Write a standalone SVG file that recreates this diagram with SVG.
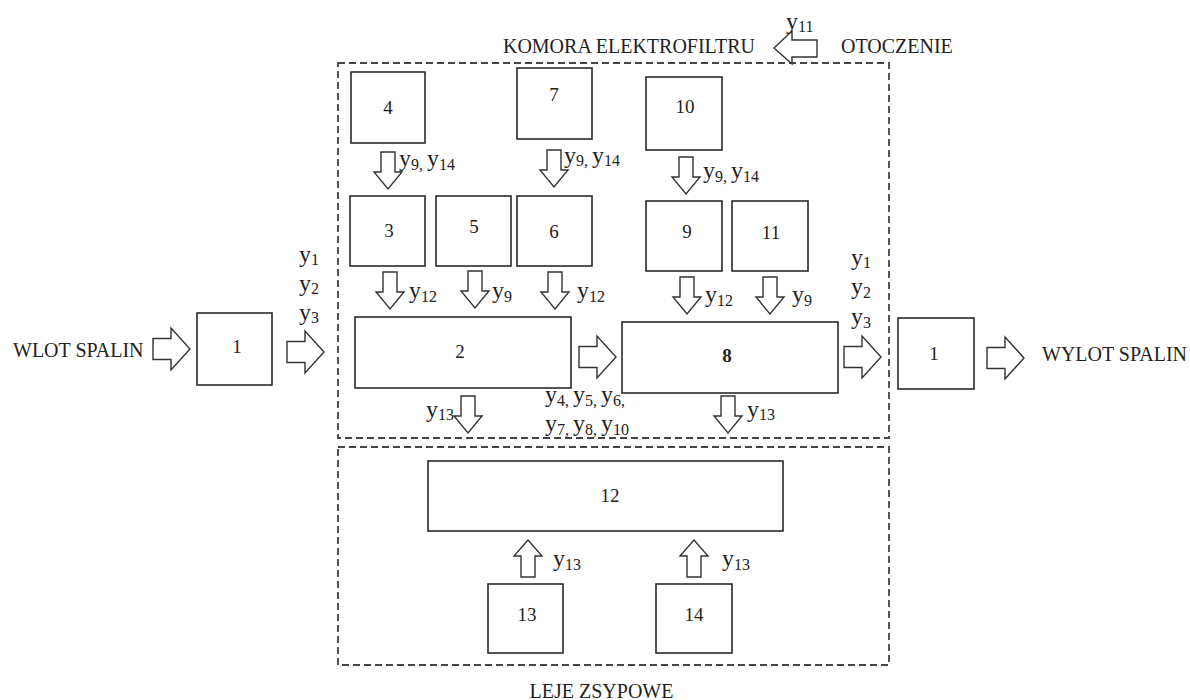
<svg xmlns="http://www.w3.org/2000/svg" xmlns:xlink="http://www.w3.org/1999/xlink" width="1190" height="700" viewBox="0 0 1190 700">
<style>
.box{fill:#fff;stroke:#2a2a2a;stroke-width:1.6}
.dash{fill:none;stroke:#444;stroke-width:1.8;stroke-dasharray:7 4}
.arr{fill:#fff;stroke:#333;stroke-width:1.4;stroke-linejoin:miter}
text{font-family:"Liberation Serif","Times New Roman",serif;fill:#222}
.num{font-size:19px;text-anchor:middle}
.lbl{font-size:20px}
.y{font-size:24px}
.s{font-size:16px}
</style>
<defs>
<path id="ad" class="arr" d="M-7,0 H7 V20 H14 L0,37 L-14,20 H-7 Z"/>
<path id="au" class="arr" d="M-7,0 H7 V-21 H14 L0,-37 L-14,-21 H-7 Z"/>
<path id="ar" class="arr" d="M0,-10.5 H18 V-21 L37,0 L18,21 V10.5 H0 Z"/>
</defs>
<rect width="1190" height="700" fill="#fff"/>

<g id="regions">
<rect class="dash" x="338" y="63" width="551" height="375"/>
<rect class="dash" x="338" y="447" width="551" height="218"/>
<text class="lbl" x="755" y="52.5" text-anchor="end">KOMORA ELEKTROFILTRU</text>
<text class="lbl" x="841" y="52.5">OTOCZENIE</text>
<text class="lbl" x="601.5" y="698" text-anchor="middle">LEJE ZSYPOWE</text>
<text class="lbl" x="13" y="357">WLOT SPALIN</text>
<text class="lbl" x="1042" y="361">WYLOT SPALIN</text>
</g>

<g id="node-1-in"><rect class="box" x="197" y="313" width="75" height="72"/><text class="num" x="237" y="353">1</text></g>
<g id="node-1-out"><rect class="box" x="898" y="318" width="76" height="71"/><text class="num" x="934" y="360">1</text></g>
<g id="node-4"><rect class="box" x="351" y="72" width="74" height="71"/><text class="num" x="388" y="114">4</text></g>
<g id="node-7"><rect class="box" x="517" y="68" width="75" height="71"/><text class="num" x="554" y="101">7</text></g>
<g id="node-10"><rect class="box" x="646" y="77" width="76" height="73"/><text class="num" x="685" y="113">10</text></g>
<g id="node-3"><rect class="box" x="350" y="196" width="75" height="70"/><text class="num" x="389" y="237">3</text></g>
<g id="node-5"><rect class="box" x="436" y="196" width="75" height="70"/><text class="num" x="474" y="233">5</text></g>
<g id="node-6"><rect class="box" x="517" y="196" width="75" height="70"/><text class="num" x="554" y="238">6</text></g>
<g id="node-9"><rect class="box" x="646" y="201" width="76" height="70"/><text class="num" x="687" y="238">9</text></g>
<g id="node-11"><rect class="box" x="732" y="201" width="76" height="70"/><text class="num" x="771" y="239">11</text></g>
<g id="node-2"><rect class="box" x="355" y="317" width="216" height="71"/><text class="num" x="460" y="358">2</text></g>
<g id="node-8"><rect class="box" x="622" y="322" width="216" height="71"/><text class="num" x="727" y="362" font-weight="bold">8</text></g>
<g id="node-12"><rect class="box" x="428" y="461" width="355" height="70"/><text class="num" x="610" y="502">12</text></g>
<g id="node-13"><rect class="box" x="488" y="584" width="75" height="69"/><text class="num" x="527" y="621">13</text></g>
<g id="node-14"><rect class="box" x="656" y="584" width="76" height="69"/><text class="num" x="694" y="621">14</text></g>

<g id="connectors">
<polygon class="arr" points="817,40 792,40 792,31 774,48 792,64 792,57 817,57"/>
<use xlink:href="#ar" x="153" y="349"/>
<use xlink:href="#ar" x="287" y="352"/>
<use xlink:href="#ar" x="579" y="357"/>
<use xlink:href="#ar" x="844" y="357"/>
<use xlink:href="#ar" x="987" y="358"/>
<use xlink:href="#ad" x="388" y="152"/>
<use xlink:href="#ad" x="554" y="150"/>
<use xlink:href="#ad" x="686" y="157"/>
<use xlink:href="#ad" x="390" y="272"/>
<use xlink:href="#ad" x="475" y="271"/>
<use xlink:href="#ad" x="555" y="272"/>
<use xlink:href="#ad" x="687" y="277"/>
<use xlink:href="#ad" x="770" y="277"/>
<use xlink:href="#ad" x="468" y="396"/>
<use xlink:href="#ad" x="728" y="396"/>
<use xlink:href="#au" x="528" y="577"/>
<use xlink:href="#au" x="694" y="577"/>
</g>

<g id="labels">
<text class="y" x="786" y="29">y<tspan class="s" dy="3">11</tspan></text>
<text class="y" x="399" y="166">y<tspan class="s" dy="3.5">9, </tspan><tspan dy="-3.5">y</tspan><tspan class="s" dy="3.5">14</tspan></text>
<text class="y" x="564" y="162.5">y<tspan class="s" dy="3.5">9, </tspan><tspan dy="-3.5">y</tspan><tspan class="s" dy="3.5">14</tspan></text>
<text class="y" x="703" y="178">y<tspan class="s" dy="3.5">9, </tspan><tspan dy="-3.5">y</tspan><tspan class="s" dy="3.5">14</tspan></text>
<text class="y" x="409" y="298">y<tspan class="s" dy="3.5">12</tspan></text>
<text class="y" x="492" y="298">y<tspan class="s" dy="3.5">9</tspan></text>
<text class="y" x="577" y="298">y<tspan class="s" dy="3.5">12</tspan></text>
<text class="y" x="705" y="302">y<tspan class="s" dy="3.5">12</tspan></text>
<text class="y" x="792" y="302">y<tspan class="s" dy="3.5">9</tspan></text>
<text class="y" x="299" y="261.5">y<tspan class="s" dy="3.5">1</tspan></text>
<text class="y" x="299" y="290.5">y<tspan class="s" dy="3.5">2</tspan></text>
<text class="y" x="299" y="319.5">y<tspan class="s" dy="3.5">3</tspan></text>
<text class="y" x="851" y="264.5">y<tspan class="s" dy="3.5">1</tspan></text>
<text class="y" x="851" y="294">y<tspan class="s" dy="3.5">2</tspan></text>
<text class="y" x="851" y="324">y<tspan class="s" dy="3.5">3</tspan></text>
<text class="y" x="426" y="416.5">y<tspan class="s" dy="3.5">13</tspan></text>
<text class="y" x="747" y="416.5">y<tspan class="s" dy="3.5">13</tspan></text>
<text class="y" x="545" y="402">y<tspan class="s" dy="3.5">4, </tspan><tspan dy="-3.5">y</tspan><tspan class="s" dy="3.5">5, </tspan><tspan dy="-3.5">y</tspan><tspan class="s" dy="3.5">6,</tspan></text>
<text class="y" x="545" y="431">y<tspan class="s" dy="3.5">7, </tspan><tspan dy="-3.5">y</tspan><tspan class="s" dy="3.5">8, </tspan><tspan dy="-3.5">y</tspan><tspan class="s" dy="3.5">10</tspan></text>
<text class="y" x="553" y="566">y<tspan class="s" dy="3.5">13</tspan></text>
<text class="y" x="722" y="566">y<tspan class="s" dy="3.5">13</tspan></text>
</g>
</svg>
